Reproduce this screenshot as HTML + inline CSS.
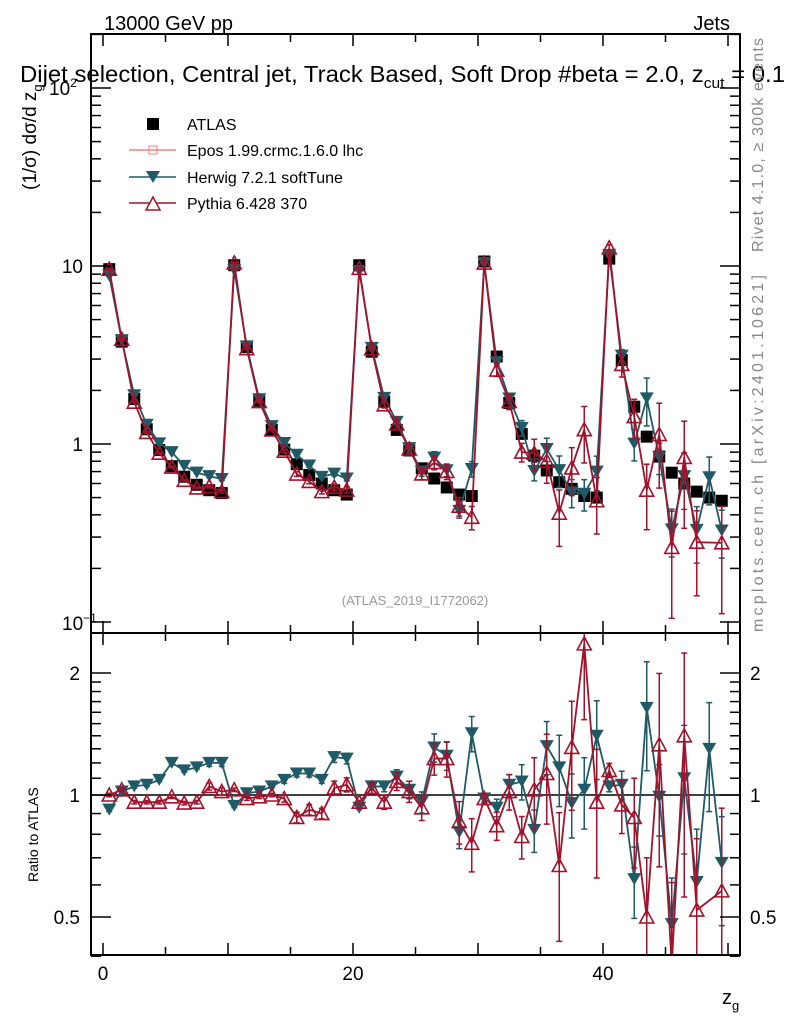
<!DOCTYPE html>
<html><head><meta charset="utf-8"><style>
html,body{margin:0;background:#fff;width:786px;height:1024px;overflow:hidden;}
svg{display:block;font-family:"Liberation Sans",sans-serif;}
</style></head><body>
<svg id="c" width="786" height="1024" viewBox="0 0 786 1024" xmlns="http://www.w3.org/2000/svg">
<text x="104" y="30" font-size="20">13000 GeV pp</text>
<text x="730" y="30" font-size="20" text-anchor="end">Jets</text>
<g id="main"></g>
<g id="ratio"></g>
<text x="20" y="82" font-size="23" textLength="765" lengthAdjust="spacingAndGlyphs">Dijet selection, Central jet, Track Based, Soft Drop #beta = 2.0, z<tspan font-size="15" dy="6">cut</tspan><tspan dy="-6"> = 0.1</tspan></text>
<text transform="translate(36,190) rotate(-90)" font-size="19">(1/σ) dσ/d z<tspan font-size="13" dy="6">g</tspan></text>
<text transform="translate(38,882) rotate(-90)" font-size="14">Ratio to ATLAS</text>
<text x="722" y="1004" font-size="20">z<tspan font-size="13" dy="6">g</tspan></text>
<text transform="translate(763,252) rotate(-90)" font-size="16" fill="#888" textLength="214" lengthAdjust="spacing">Rivet 4.1.0, ≥ 300k events</text>
<text transform="translate(763,632) rotate(-90)" font-size="16" fill="#888" textLength="357" lengthAdjust="spacing">mcplots.cern.ch [arXiv:2401.10621]</text>
<text x="415" y="605" font-size="13" fill="#999" text-anchor="middle">(ATLAS_2019_I1772062)</text>
<g>
<rect x="147" y="118" width="12" height="12" fill="#000"/>
<text x="187" y="130" font-size="16">ATLAS</text>
<line x1="129" y1="150" x2="176" y2="150" stroke="#f08080" stroke-width="1.5"/>
<rect x="149" y="146" width="8" height="8" fill="none" stroke="#f08080"/>
<text x="187" y="156" font-size="16">Epos 1.99.crmc.1.6.0 lhc</text>
<line x1="129" y1="177" x2="176" y2="177" stroke="#1f5a66" stroke-width="1.5"/>
<path d="M146,171 L160,171 L153,183 Z" fill="#1f5a66"/>
<text x="187" y="183" font-size="16">Herwig 7.2.1 softTune</text>
<line x1="129" y1="203" x2="176" y2="203" stroke="#a3112b" stroke-width="1.5"/>
<path d="M146,210 L160,210 L153,197 Z" fill="#fff" stroke="#a3112b" stroke-width="1.5"/>
<text x="187" y="209" font-size="16">Pythia 6.428 370</text>
</g>
</svg>
<script>
const atlas=[9.6,3.76,1.79,1.21,0.925,0.75,0.655,0.59,0.55,0.53,
10.1,3.5,1.75,1.2,0.93,0.77,0.67,0.6,0.55,0.52,
10.1,3.3,1.73,1.2,0.92,0.73,0.64,0.57,0.52,0.51,
10.6,3.1,1.7,1.14,0.86,0.71,0.61,0.56,0.51,0.5,
11.0,2.96,1.62,1.1,0.85,0.69,0.6,0.54,0.5,0.48];
const herwigRatio=[0.92,1.02,1.05,1.06,1.09,1.2,1.15,1.17,1.2,1.2,
0.94,1.01,1.02,1.05,1.09,1.13,1.13,1.09,1.24,1.23,
0.93,1.05,1.05,1.11,1.03,0.96,1.31,1.25,0.81,1.42,
0.98,0.93,1.06,1.08,0.82,1.32,1.17,0.955,1.03,1.4,
1.05,1.06,0.62,1.64,0.99,0.48,1.1,0.61,1.3,0.68];
const pythiaRatio=[1.0,1.03,0.96,0.96,0.96,0.99,0.955,0.96,1.05,1.02,
1.03,0.98,0.99,1.0,0.98,0.88,0.92,0.9,1.04,1.06,
0.96,1.04,0.96,1.08,1.02,0.93,1.23,1.23,0.86,0.76,
0.98,0.84,1.02,0.79,1.03,1.13,0.67,1.31,2.36,0.96,
1.15,0.945,0.88,0.5,1.33,0.38,1.4,0.52,null,0.58];
const herwigErr=[0.01,0.01,0.01,0.01,0.01,0.01,0.01,0.01,0.02,0.02,
0.01,0.01,0.01,0.01,0.02,0.02,0.02,0.02,0.03,0.03,
0.01,0.02,0.03,0.04,0.05,0.06,0.08,0.08,0.09,0.1,
0.02,0.05,0.06,0.1,0.12,0.15,0.2,0.18,0.2,0.22,
0.03,0.08,0.2,0.3,0.2,0.3,0.35,0.35,0.3,0.3];
const pythiaErr=[0.01,0.01,0.01,0.01,0.01,0.01,0.01,0.01,0.02,0.02,
0.01,0.01,0.01,0.01,0.02,0.03,0.03,0.03,0.04,0.04,
0.01,0.03,0.04,0.05,0.06,0.07,0.09,0.1,0.12,0.15,
0.03,0.08,0.1,0.12,0.2,0.25,0.35,0.3,0.35,0.35,
0.04,0.15,0.25,0.4,0.5,0.6,0.6,0.5,0.5,0.6];
const xTicks=[0,20,40];
const NS="http://www.w3.org/2000/svg";
const L=91,R=740,T=34,MB=633,RB=955;
const X=v=>103+12.5*v;
const Ym=v=>266-178*Math.log10(v/10);
const Yr=v=>795-122*Math.log2(v);
function el(p,t,a){const e=document.createElementNS(NS,t);for(const k in a)e.setAttribute(k,a[k]);p.appendChild(e);return e;}
const main=document.getElementById('main'),ratio=document.getElementById('ratio');
const defs=el(document.getElementById('c'),'defs',{});
function clip(id,y1,y2){const d=el(defs,'clipPath',{id:id});el(d,'rect',{x:L,y:y1,width:R-L,height:y2-y1});}
clip('cm',T,MB);clip('cr',MB,RB);
const gm=el(main,'g',{'clip-path':'url(#cm)'});
const gr=el(ratio,'g',{'clip-path':'url(#cr)'});
const f1=el(main,'rect',{x:L,y:T,width:R-L,height:MB-T,fill:'none',stroke:'#000','stroke-width':2});


const f2=el(ratio,'rect',{x:L,y:MB,width:R-L,height:RB-MB,fill:'none',stroke:'#000','stroke-width':2});


for(let v=0;v<=50;v+=5){const x=X(v);const len=v%10==0?12:8;
 [[T,T+len],[MB,MB-len],[MB,MB+len],[RB,RB-len]].forEach(([a,b])=>el(main,'line',{x1:x,y1:a,x2:x,y2:b,stroke:'#000','stroke-width':1.5}));}
xTicks.forEach(v=>{const t=el(ratio,'text',{x:X(v),y:980,'font-size':19,'text-anchor':'middle'});t.textContent=v;

});
for(let d=-1;d<=2;d++)for(let m=1;m<10;m++){const v=m*Math.pow(10,d);const y=Ym(v);if(y<T||y>MB)continue;const len=m==1?20:10;
 el(main,'line',{x1:L,y1:y,x2:L+len,y2:y,stroke:'#000','stroke-width':1.5});el(main,'line',{x1:R,y1:y,x2:R-len,y2:y,stroke:'#000','stroke-width':1.5});}
[[10,'10'],[1,'1']].forEach(([v,s])=>{const t=el(main,'text',{x:83,y:Ym(v)+7,'font-size':19,'text-anchor':'end'});t.textContent=s;

});
{const t=el(main,'text',{x:62,y:Ym(0.1)+8,'font-size':19});t.innerHTML='10<tspan font-size="12" dy="-8">−1</tspan>';


const t2=el(main,'text',{x:49,y:Ym(100)+7,'font-size':19});t2.innerHTML='10<tspan font-size="12" dy="-8">2</tspan>';

}
[0.4,0.5,0.6,0.7,0.8,0.9,1,1.1,1.2,1.3,1.4,1.5,1.6,1.7,1.8,1.9,2].forEach(v=>{const y=Yr(v);const len=(v==0.5||v==1||v==2)?20:10;
 el(ratio,'line',{x1:L,y1:y,x2:L+len,y2:y,stroke:'#000','stroke-width':1.5});el(ratio,'line',{x1:R,y1:y,x2:R-len,y2:y,stroke:'#000','stroke-width':1.5});});
[[2,'2'],[1,'1'],[0.5,'0.5']].forEach(([v,s])=>{const a=el(ratio,'text',{x:80,y:Yr(v)+7,'font-size':19,'text-anchor':'end'});a.textContent=s;


const b=el(ratio,'text',{x:750,y:Yr(v)+7,'font-size':19});b.textContent=s;

});
el(gr,'line',{x1:L,y1:Yr(1),x2:R,y2:Yr(1),stroke:'#000','stroke-width':1.5});
function series(g,Yf,vals,errs,col,tri,name){
 let d='';vals.forEach((v,i)=>{if(v==null)return;d+=(d?'L':'M')+X(i+0.5)+','+Yf(v);});
 const p=el(g,'path',{d:d,fill:'none',stroke:col,'stroke-width':1.8});
 
 
 vals.forEach((v,i)=>{if(v==null)return;const x=X(i+0.5),y=Yf(v);const e=errs[i];
  const y1=Yf(v*(1+e)),y2=Yf(Math.max(v*(1-e),1e-3));
  el(g,'line',{x1:x,y1:y1,x2:x,y2:y2,stroke:col,'stroke-width':1.5});
  el(g,'line',{x1:x-3,y1:y1,x2:x+3,y2:y1,stroke:col,'stroke-width':1.5});
  el(g,'line',{x1:x-3,y1:y2,x2:x+3,y2:y2,stroke:col,'stroke-width':1.5});
  const m=tri?el(g,'path',{d:`M${x-7},${y+6}L${x+7},${y+6}L${x},${y-7}Z`,fill:'#fff','fill-opacity':0,stroke:col,'stroke-width':1.6})
            :el(g,'path',{d:`M${x-7},${y-6}L${x+7},${y-6}L${x},${y+6}Z`,fill:col});
  
  
 });}
const herwig=atlas.map((a,i)=>a*herwigRatio[i]);
const pythia=atlas.map((a,i)=>pythiaRatio[i]==null?null:a*pythiaRatio[i]);
atlas.forEach((v,i)=>{const r=el(gm,'rect',{x:X(i+0.5)-6,y:Ym(v)-6,width:12,height:12,fill:'#000'});

});
series(gm,Ym,herwig,herwigErr,'#1f5a66',false,'herwig');
series(gm,Ym,pythia,pythiaErr,'#a3112b',true,'pythia');
series(gr,Yr,herwigRatio,herwigErr,'#1f5a66',false,'herwig-ratio');
series(gr,Yr,pythiaRatio,pythiaErr,'#a3112b',true,'pythia-ratio');
</script>
</body></html>
